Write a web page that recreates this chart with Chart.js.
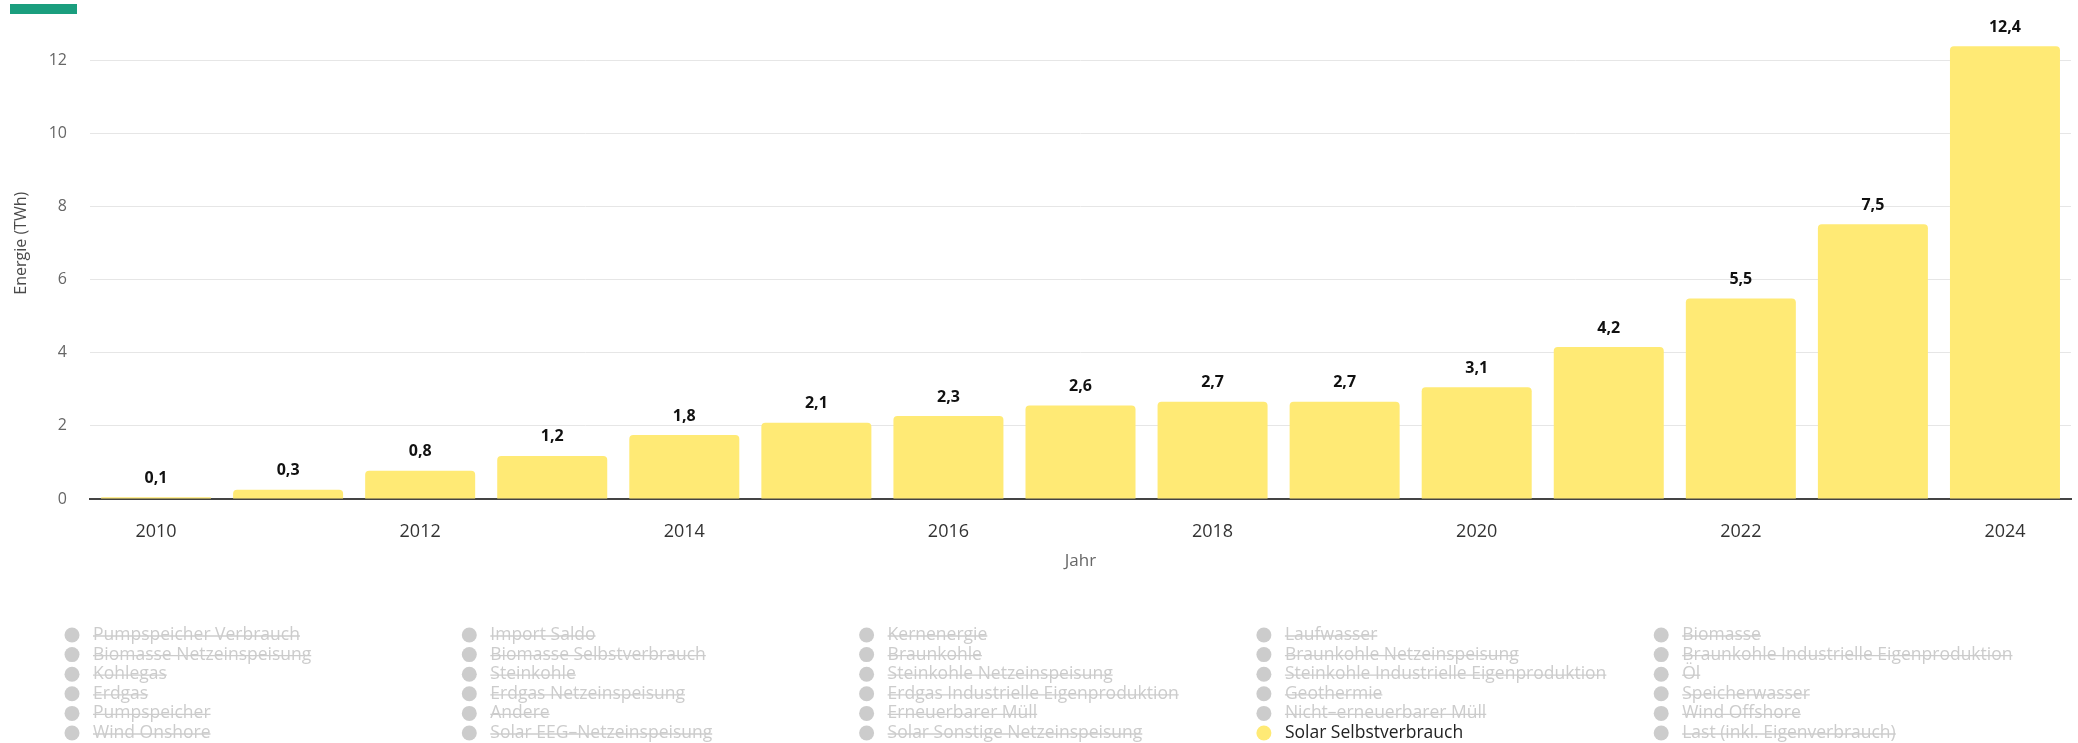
<!DOCTYPE html>
<html><head><meta charset="utf-8">
<script src="https://cdn.jsdelivr.net/npm/chart.js@4.4.0/dist/chart.umd.min.js"></script>
<style>
html,body{margin:0;padding:0;background:#fff;overflow:hidden}
#wrap{position:relative;width:2078px;height:743px}
#accent{position:absolute;left:10px;top:4px;width:67px;height:10px;background:#1a9e7e}
canvas{position:absolute;left:0;top:0}
</style></head><body>
<div id="wrap"><canvas id="c" width="2078" height="743"></canvas><div id="accent"></div></div>
<script>
const years = ['2010','2011','2012','2013','2014','2015','2016','2017','2018','2019','2020','2021','2022','2023','2024'];
const solarSelbstverbrauch = [0.05, 0.25, 0.77, 1.18, 1.75, 2.09, 2.27, 2.56, 2.66, 2.66, 3.06, 4.16, 5.49, 7.52, 12.39];
const yTicks = [0, 2, 4, 6, 8, 10, 12];
const yTitle = 'Energie (TWh)';
const xTitle = 'Jahr';
const legendNames = [
  'Pumpspeicher Verbrauch','Import Saldo','Kernenergie','Laufwasser','Biomasse',
  'Biomasse Netzeinspeisung','Biomasse Selbstverbrauch','Braunkohle','Braunkohle Netzeinspeisung','Braunkohle Industrielle Eigenproduktion',
  'Kohlegas','Steinkohle','Steinkohle Netzeinspeisung','Steinkohle Industrielle Eigenproduktion','Öl',
  'Erdgas','Erdgas Netzeinspeisung','Erdgas Industrielle Eigenproduktion','Geothermie','Speicherwasser',
  'Pumpspeicher','Andere','Erneuerbarer Müll','Nicht–erneuerbarer Müll','Wind Offshore',
  'Wind Onshore','Solar EEG–Netzeinspeisung','Solar Sonstige Netzeinspeisung','Solar Selbstverbrauch','Last (inkl. Eigenverbrauch)'
];
const activeSeries = 'Solar Selbstverbrauch';

const barColor = '#ffea75';
const hiddenColor = '#cccccc';
const FONT = '"Open Sans", "DejaVu Sans", sans-serif';

const valueLabels = {
  id: 'valueLabels',
  afterDatasetsDraw(chart) {
    const ctx = chart.ctx;
    const meta = chart.getDatasetMeta(0);
    const data = chart.data.datasets[0].data;
    ctx.save();
    ctx.font = 'bold 16px ' + FONT;
    ctx.fillStyle = '#111';
    ctx.textAlign = 'center';
    ctx.textBaseline = 'middle';
    meta.data.forEach((bar, i) => {
      ctx.fillText(data[i].toFixed(1).replace('.', ','), bar.x, bar.y - 19);
    });
    ctx.restore();
  }
};

const yAxisTitle = {
  id: 'yAxisTitle',
  afterDraw(chart) {
    const ctx = chart.ctx;
    const y = chart.scales.y;
    ctx.save();
    ctx.translate(21.5, y.getPixelForValue(7.0));
    ctx.rotate(-Math.PI / 2);
    ctx.font = '16px ' + FONT;
    ctx.fillStyle = '#4a4a4a';
    ctx.textAlign = 'center';
    ctx.textBaseline = 'middle';
    ctx.fillText(yTitle, 0, 0);
    ctx.restore();
  }
};

const gridLegend = {
  id: 'gridLegend',
  afterDraw(chart) {
    const ctx = chart.ctx;
    ctx.save();
    ctx.font = '17.5px ' + FONT;
    ctx.textBaseline = 'middle';
    ctx.textAlign = 'left';
    legendNames.forEach((name, i) => {
      const col = i % 5, row = Math.floor(i / 5);
      const cx = 72 + col * 397.3, cy = 635 + row * 19.6;
      const active = name === activeSeries;
      ctx.fillStyle = active ? barColor : hiddenColor;
      ctx.beginPath(); ctx.arc(cx, cy, 7.5, 0, Math.PI * 2); ctx.fill();
      const tx = cx + 21;
      ctx.fillStyle = active ? '#222' : hiddenColor;
      ctx.fillText(name, tx, cy);
      if (!active) {
        const w = ctx.measureText(name).width;
        ctx.strokeStyle = hiddenColor; ctx.lineWidth = 1.3;
        ctx.beginPath(); ctx.moveTo(tx, cy + 1); ctx.lineTo(tx + w, cy + 1); ctx.stroke();
      }
    });
    ctx.restore();
  }
};

new Chart(document.getElementById('c'), {
  type: 'bar',
  data: {
    labels: years,
    datasets: [{
      label: activeSeries,
      data: solarSelbstverbrauch,
      backgroundColor: barColor,
      borderRadius: {topLeft: 4, topRight: 4, bottomLeft: 0, bottomRight: 0},
      borderSkipped: 'start',
      barPercentage: 0.833,
      categoryPercentage: 1.0
    }]
  },
  options: {
    responsive: false,
    animation: false,
    devicePixelRatio: 1,
    layout: {padding: {top: 24, right: 7, bottom: 164, left: 0}},
    plugins: {legend: {display: false}, tooltip: {enabled: false}},
    scales: {
      x: {
        z: 1,
        grid: {display: false, drawTicks: false},
        border: {display: true, color: '#444', width: 2},
        ticks: {
          font: {family: FONT, size: 18}, color: '#333', padding: 22,
          autoSkip: false, maxRotation: 0,
          callback: (v, i) => (i % 2 === 0 ? years[i] : '')
        },
        title: {display: true, text: xTitle, font: {family: FONT, size: 17}, color: '#666', padding: {top: 0, bottom: 8}},
        afterFit(s) { s.height = 80; s.paddingLeft = 0; s.paddingRight = 0; }
      },
      y: {
        min: 0, max: 13,
        ticks: {stepSize: 2, font: {family: FONT, size: 16}, color: '#666', padding: 23},
        afterBuildTicks(s) { s.ticks = yTicks.map(v => ({value: v})); },
        grid: {color: '#e6e6e6', drawTicks: false, lineWidth: 1},
        border: {display: false},
        title: {display: false},
        afterFit(s) { s.width = 90; s.paddingTop = 0; s.paddingBottom = 0; }
      }
    }
  },
  plugins: [valueLabels, yAxisTitle, gridLegend]
});
</script>
</body></html>
